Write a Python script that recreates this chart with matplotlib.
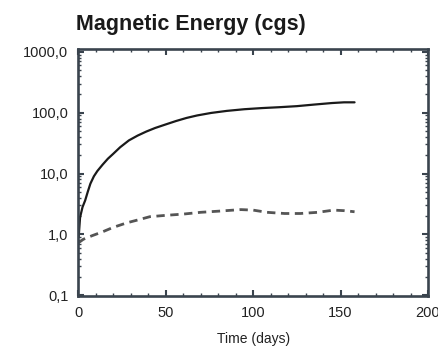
import matplotlib
matplotlib.use('Agg')
import matplotlib.pyplot as plt
from matplotlib.ticker import FixedLocator, FixedFormatter, LogLocator, NullFormatter, MultipleLocator

plt.rcParams['font.family'] = ['Liberation Sans', 'DejaVu Sans']

# Total magnetic energy (solid) and the dashed component
t_total = [0.3, 1.1, 2.5, 4, 5.5, 7, 9, 11, 14, 17, 20, 24, 29, 34, 39, 44, 50, 56, 62, 68,
           76, 85, 95, 105, 115, 125, 135, 145, 152, 158]
e_total = [0.9, 1.9, 2.8, 3.6, 5.0, 6.8, 9.0, 11, 14, 17.5, 21, 27, 35, 42, 49, 56, 64, 73, 82, 90,
           99, 107, 114, 119, 123, 128, 136, 144, 148, 148]

t_part = [0, 3, 8, 14, 20, 28, 35, 41, 50, 60, 70, 80, 93, 100, 108, 118, 127, 137, 146, 152, 158]
e_part = [0.72, 0.83, 0.95, 1.1, 1.3, 1.55, 1.75, 1.95, 2.05, 2.15, 2.3, 2.4, 2.55, 2.5, 2.3, 2.2, 2.2, 2.3, 2.5, 2.45, 2.35]

y_ticks = [0.1, 1, 10, 100, 1000]
y_labels = ['0,1', '1,0', '10,0', '100,0', '1000,0']
x_ticks = [0, 50, 100, 150, 200]

frame = '#3a444e'

fig = plt.figure(figsize=(4.39, 3.49), dpi=100)
ax = fig.add_axes([0.178, 0.152, 0.797, 0.708])

ax.plot(t_total, e_total, color='#1a1a1a', lw=1.6, solid_capstyle='round')
ax.plot(t_part, e_part, color='#555555', lw=2.0, dashes=(3, 2))

ax.set_yscale('log')
ax.set_xlim(0, 200)
ax.set_ylim(0.097, 1120)

ax.yaxis.set_major_locator(FixedLocator(y_ticks))
ax.yaxis.set_major_formatter(FixedFormatter(y_labels))
ax.yaxis.set_minor_locator(LogLocator(base=10, subs=range(2, 10)))
ax.yaxis.set_minor_formatter(NullFormatter())
ax.set_xticks(x_ticks)
ax.xaxis.set_minor_locator(MultipleLocator(10))

ax.tick_params(which='both', direction='in', top=True, right=True, color=frame,
               labelsize=10.5, labelcolor='#222222')
ax.tick_params(which='major', length=4, width=1.5, pad=7)
ax.tick_params(which='minor', length=2, width=1.0)

for side in ax.spines.values():
    side.set_color(frame)
    side.set_linewidth(1.9)

ax.set_xlabel('Time (days)', fontsize=10, color='#222222', labelpad=9)

fig.text(0.173, 0.931, 'Magnetic Energy (cgs)', fontsize=15.5, fontweight='bold',
         ha='left', va='center', color='#1a1a1a')

fig.savefig('out.png', dpi=100)
